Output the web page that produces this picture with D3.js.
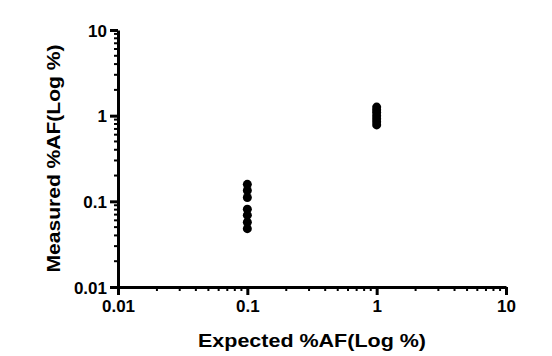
<!DOCTYPE html>
<html><head><meta charset="utf-8">
<script src="https://cdn.jsdelivr.net/npm/d3@7"></script>
<style>body{margin:0;background:#fff}svg{display:block}text{font-family:"Liberation Sans",Arial,sans-serif;font-weight:bold;fill:#000}</style>
</head><body>
<script>
const expected = [0.1, 1];
const measuredAt01 = [0.158, 0.134, 0.111, 0.081, 0.069, 0.057, 0.048];
const measuredAt1 = [1.26, 1.17, 1.09, 1.0, 0.92, 0.85, 0.78];
const tickValues = [0.01, 0.1, 1, 10];
const tickLabels = ["0.01", "0.1", "1", "10"];
const xTitle = "Expected %AF(Log %)";
const yTitle = "Measured %AF(Log %)";

const W = 552, H = 356;
const m = {left: 118, right: 46, top: 30, bottom: 69};
const svg = d3.select("body").append("svg").attr("width", W).attr("height", H);
const x = d3.scaleLog().domain([0.01, 10]).range([m.left, W - m.right]);
const y = d3.scaleLog().domain([0.01, 10]).range([H - m.bottom, m.top]);

const minor = [];
for (let d = 0.01; d < 10; d *= 10) for (let k = 2; k <= 9; k++) minor.push(+(d * k).toPrecision(3));

// minor ticks
const gx = svg.append("g");
gx.selectAll("line.mx").data(minor).join("line")
  .attr("x1", d => x(d)).attr("x2", d => x(d))
  .attr("y1", y(0.01)).attr("y2", y(0.01) + 4)
  .attr("stroke", "#000").attr("stroke-width", 2);
gx.selectAll("line.my").data(minor).join("line")
  .attr("y1", d => y(d)).attr("y2", d => y(d))
  .attr("x1", x(0.01)).attr("x2", x(0.01) - 4)
  .attr("stroke", "#000").attr("stroke-width", 2);

// major axes
const xAxis = d3.axisBottom(x).tickValues(tickValues).tickFormat((d, i) => tickLabels[i]).tickSize(8).tickPadding(5).tickSizeOuter(0);
const yAxis = d3.axisLeft(y).tickValues(tickValues).tickFormat((d, i) => tickLabels[i]).tickSize(8).tickPadding(3).tickSizeOuter(0);
const ax = svg.append("g").attr("transform", `translate(0,${y(0.01)})`).call(xAxis);
const ay = svg.append("g").attr("transform", `translate(${x(0.01)},0)`).call(yAxis);
[ax, ay].forEach(g => {
  g.attr("font-size", 17).attr("font-family", "Liberation Sans, Arial, sans-serif");
  g.select(".domain").attr("stroke", "#000").attr("stroke-width", 3);
  g.selectAll(".tick line").attr("stroke", "#000").attr("stroke-width", 3);
  g.selectAll(".tick text").attr("font-size", 17).attr("font-weight", "bold").attr("fill", "#000");
});
ay.selectAll(".tick text").attr("dy", "0.36em");

// points
const pts = [];
measuredAt01.forEach(v => pts.push([expected[0], v]));
measuredAt1.forEach(v => pts.push([expected[1], v]));
svg.append("g").selectAll("circle").data(pts).join("circle")
  .attr("cx", d => x(d[0])).attr("cy", d => y(d[1])).attr("r", 4.5).attr("fill", "#000");

// titles
svg.append("text").attr("x", (m.left + W - m.right) / 2).attr("y", 347)
  .attr("text-anchor", "middle").attr("font-size", 19)
  .attr("textLength", 228).attr("lengthAdjust", "spacingAndGlyphs").text(xTitle);
svg.append("text").attr("transform", `translate(60,${(m.top + H - m.bottom) / 2}) rotate(-90)`)
  .attr("text-anchor", "middle").attr("font-size", 19)
  .attr("textLength", 228).attr("lengthAdjust", "spacingAndGlyphs").text(yTitle);
</script>
</body></html>
